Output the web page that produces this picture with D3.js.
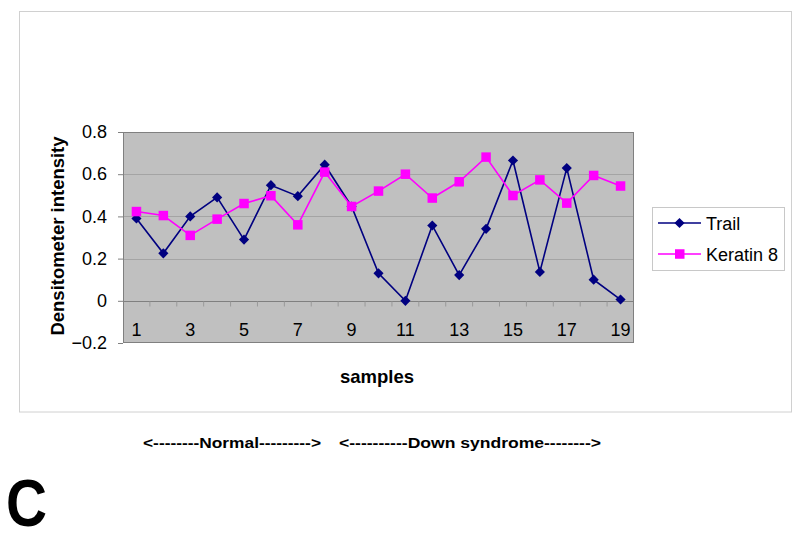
<!DOCTYPE html>
<html>
<head>
<meta charset="utf-8">
<script src="https://cdn.jsdelivr.net/npm/d3@7"></script>
<style>
  html, body { margin: 0; padding: 0; background: #fff; }
  svg { display: block; }
  text { font-family: Arial, "Liberation Sans", sans-serif; }
</style>
</head>
<body>
<svg id="chart" width="800" height="534"></svg>
<script>
const categories = ["1","2","3","4","5","6","7","8","9","10","11","12","13","14","15","16","17","18","19"];
const trail = [0.39, 0.225, 0.40, 0.49, 0.29, 0.548, 0.496, 0.645, 0.447, 0.13, 0.0, 0.357, 0.122, 0.341, 0.665, 0.137, 0.629, 0.10, 0.006];
const keratin8 = [0.423, 0.404, 0.31, 0.387, 0.461, 0.498, 0.36, 0.61, 0.447, 0.52, 0.60, 0.487, 0.564, 0.681, 0.499, 0.573, 0.463, 0.594, 0.544];
const yTicks = [-0.2, 0, 0.2, 0.4, 0.6, 0.8];
const xLabels = ["1","3","5","7","9","11","13","15","17","19"];
const seriesNames = ["Trail", "Keratin 8"];
const seriesColors = ["#000080", "#FF00FF"];

const svg = d3.select("#chart");

// outer chart frame
svg.append("rect").attr("x", 19.5).attr("y", 11.5).attr("width", 772).attr("height", 400.5)
  .attr("fill", "#fff").attr("stroke", "#d0d0d0").attr("stroke-width", 1);

const plot = { left: 123, right: 634, top: 132, bottom: 343 };

const x = d3.scaleBand().domain(categories).range([plot.left, plot.right]);
const y = d3.scaleLinear().domain([-0.2, 0.8]).range([plot.bottom, plot.top]);

// plot background
svg.append("rect").attr("x", plot.left).attr("y", plot.top)
  .attr("width", plot.right - plot.left).attr("height", plot.bottom - plot.top)
  .attr("fill", "#C0C0C0");

// gridlines
svg.append("g").selectAll("line").data(yTicks.filter(d => d > -0.2 && d < 0.8)).join("line")
  .attr("x1", plot.left).attr("x2", plot.right)
  .attr("y1", d => Math.round(y(d)) + 0.5).attr("y2", d => Math.round(y(d)) + 0.5)
  .attr("stroke", d => d === 0 ? "#808080" : "#a4a4a4").attr("stroke-width", 1);

// plot border
svg.append("rect").attr("x", plot.left + 0.5).attr("y", plot.top + 0.5)
  .attr("width", plot.right - plot.left - 1).attr("height", plot.bottom - plot.top - 1)
  .attr("fill", "none").attr("stroke", "#808080").attr("stroke-width", 1);

// y axis
const yAxis = d3.axisLeft(y).tickValues(yTicks).tickSize(5).tickPadding(11)
  .tickFormat(d => d === 0 ? "0" : d3.format(".1f")(d));
const yg = svg.append("g").attr("transform", `translate(${plot.left},0)`).call(yAxis);
yg.select(".domain").remove();
yg.selectAll(".tick line").attr("stroke", "#808080");
yg.selectAll(".tick text").attr("font-size", 18).attr("fill", "#000")
  .style("font-family", "Arial, 'Liberation Sans', sans-serif");

// x axis at y=0
const y0 = Math.round(y(0)) + 0.5;
const xg = svg.append("g");
xg.selectAll("line").data(categories.slice(1)).join("line")
  .attr("x1", d => x(d)).attr("x2", d => x(d))
  .attr("y1", y0).attr("y2", y0 + 5)
  .attr("stroke", "#9a9a9a");
xg.selectAll("text").data(xLabels).join("text")
  .attr("x", d => x(d) + x.bandwidth() / 2)
  .attr("y", 336)
  .attr("text-anchor", "middle")
  .attr("font-size", 18).attr("fill", "#000")
  .text(d => d);

// lines and markers
const lineGen = d3.line().x((d, i) => x(categories[i]) + x.bandwidth() / 2).y(d => y(d));
const seriesData = [trail, keratin8];

seriesData.forEach((vals, si) => {
  svg.append("path").datum(vals).attr("d", lineGen)
    .attr("fill", "none").attr("stroke", seriesColors[si]).attr("stroke-width", 1.6);
});
// trail diamonds
svg.append("g").selectAll("path").data(trail).join("path")
  .attr("d", d3.symbol().type(d3.symbolDiamond2).size(66))
  .attr("transform", (d, i) => `translate(${x(categories[i]) + x.bandwidth() / 2},${y(d)})`)
  .attr("fill", seriesColors[0]);
// keratin squares
svg.append("g").selectAll("rect").data(keratin8).join("rect")
  .attr("x", (d, i) => x(categories[i]) + x.bandwidth() / 2 - 4.75)
  .attr("y", d => y(d) - 4.75)
  .attr("width", 9.5).attr("height", 9.5)
  .attr("fill", seriesColors[1]);

// axis titles
svg.append("text").attr("transform", "translate(64,236) rotate(-90)")
  .attr("text-anchor", "middle").attr("font-size", 18).attr("font-weight", "bold")
  .attr("textLength", 199).attr("lengthAdjust", "spacingAndGlyphs")
  .text("Densitometer intensity");
svg.append("text").attr("x", 377).attr("y", 383)
  .attr("text-anchor", "middle").attr("font-size", 18.5).attr("font-weight", "bold")
  .text("samples");

// legend
const lg = svg.append("g");
lg.append("rect").attr("x", 652.5).attr("y", 207.5).attr("width", 132).attr("height", 63)
  .attr("fill", "#fff").attr("stroke", "#c8c8c8");
seriesNames.forEach((name, i) => {
  const ly = 223 + i * 31;
  lg.append("line").attr("x1", 658).attr("x2", 701).attr("y1", ly).attr("y2", ly)
    .attr("stroke", seriesColors[i]).attr("stroke-width", 1.6);
  if (i === 0) {
    lg.append("path").attr("d", d3.symbol().type(d3.symbolDiamond2).size(66))
      .attr("transform", `translate(679.5,${ly})`).attr("fill", seriesColors[i]);
  } else {
    lg.append("rect").attr("x", 675).attr("y", ly - 4.75).attr("width", 9.5).attr("height", 9.5)
      .attr("fill", seriesColors[i]);
  }
  lg.append("text").attr("x", 706).attr("y", ly + 6.5).attr("font-size", 18).text(name);
});

// group labels
svg.append("text").attr("x", 143).attr("y", 448)
  .attr("font-size", 14).attr("font-weight", "bold")
  .attr("textLength", 178).attr("lengthAdjust", "spacingAndGlyphs")
  .style("font-family", "'Liberation Sans Narrow', 'Arial Narrow', Arial, sans-serif")
  .text("<--------Normal--------->");
svg.append("text").attr("x", 339).attr("y", 448)
  .attr("font-size", 14).attr("font-weight", "bold")
  .attr("textLength", 262).attr("lengthAdjust", "spacingAndGlyphs")
  .style("font-family", "'Liberation Sans Narrow', 'Arial Narrow', Arial, sans-serif")
  .text("<----------Down syndrome-------->");

// panel letter
svg.append("text").attr("x", 6).attr("y", 526)
  .attr("font-size", 66).attr("font-weight", "bold")
  .attr("textLength", 41).attr("lengthAdjust", "spacingAndGlyphs")
  .style("font-family", "'Liberation Sans Narrow', 'Arial Narrow', Arial, sans-serif")
  .text("C");
</script>
</body>
</html>
